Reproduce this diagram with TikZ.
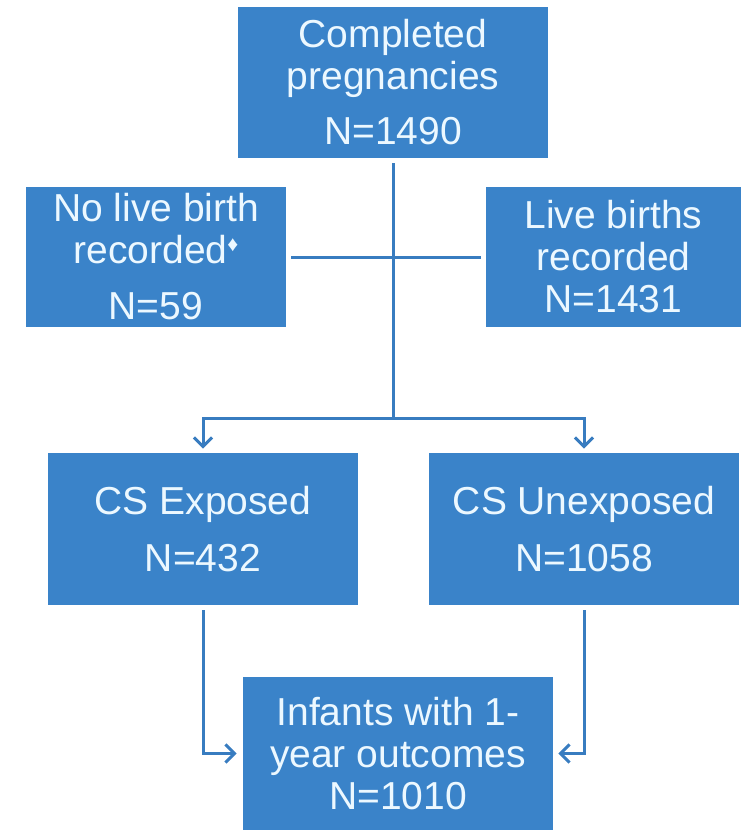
\documentclass[tikz,border=0pt]{standalone}
\usepackage{fontspec}
\setmainfont{Liberation Sans}
\usetikzlibrary{positioning,arrows.meta}
\definecolor{boxblue}{RGB}{58,131,201}
\definecolor{lineblue}{RGB}{56,124,192}
\definecolor{paletext}{RGB}{236,248,255}
\newcommand{\lozmark}{\raisebox{0.6ex}{\scalebox{0.55}{♦}}}

\begin{document}
\begin{tikzpicture}[
    x=0.5pt, y=-0.5pt,
    block/.style={fill=boxblue, text=paletext, align=center, inner sep=0pt, minimum width=155pt, minimum height=76pt, font=\fontsize{19.5pt}{21pt}\selectfont},
    link/.style={draw=lineblue, line width=1.5pt},
    arrow/.style={link, -{Straight Barb[length=4.5pt, width=9pt]}}
]
\useasboundingbox (0,0) rectangle (748,830);

\node[block, minimum height=75.5pt] (preg) at (393,82.5) {Completed\\pregnancies\\[6.5pt]N=1490};
\node[block, minimum width=130pt, minimum height=70pt] (nolive) at (156,257) {No live birth\\recorded\lozmark\\[7pt]N=59};
\node[block, minimum width=127.5pt, minimum height=70pt] (live) at (613.5,257) {Live births\\recorded\\N=1431};
\node[block] (exposed) at (203,529) {CS Exposed\\[7.5pt]N=432};
\node[block] (unexposed) at (584,529) {CS Unexposed\\[7.5pt]N=1058};
\node[block, minimum height=76.5pt] (infants) at (398,753.5) {Infants with 1-\\year outcomes\\N=1010};

\coordinate (split) at (393,418);
\draw[link, shorten <=2.5pt] (preg.south) -- (split);
\draw[link, shorten <=2.5pt, shorten >=2.5pt] (nolive) -- (live);
\draw[arrow, shorten >=2pt] (split) -| (exposed.north);
\draw[arrow, shorten >=2pt] (split) -| (unexposed.north);

\draw[arrow, shorten <=2.5pt, shorten >=3pt] (exposed.south) |- (infants.west);
\draw[arrow, shorten <=2.5pt, shorten >=2.5pt] (unexposed.south) |- (infants.east);
\end{tikzpicture}
\end{document}
